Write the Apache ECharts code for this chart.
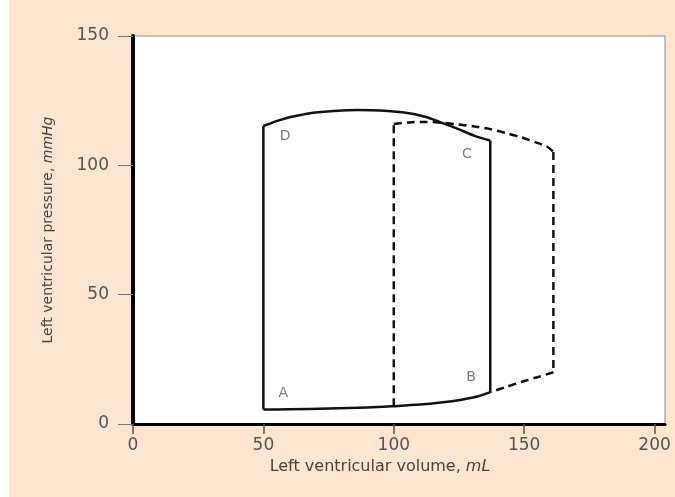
<!DOCTYPE html>
<html>
<head>
<meta charset="utf-8">
<title>Left ventricular pressure–volume loop</title>
<script src="https://cdn.jsdelivr.net/npm/echarts@6/dist/echarts.min.js"></script>
<style>
  html, body { margin: 0; padding: 0; background: #ffffff; }
  #chart { position: absolute; left: 9px; top: 0; width: 666px; height: 497px; }
</style>
</head>
<body>
<div id="chart"></div>
<script>
// Axis ticks
const volumeTicks = [0, 50, 100, 150, 200];
const pressureTicks = [0, 50, 100, 150];

// Control loop (solid): D -> C along the top, B -> A along the bottom
const controlTop = [
  [50, 115.2], [55, 117.1], [60, 118.6], [65, 119.6], [70, 120.4], [77, 121.0],
  [86, 121.4], [95, 121.2], [104, 120.4], [112, 118.8], [118, 116.6],
  [125, 113.9], [131, 111.4], [137, 109.6]
];
const controlBottom = [
  [137, 12.3], [132, 10.6], [126, 9.4], [118, 8.3], [110, 7.5],
  [100, 6.9], [90, 6.4], [75, 6.0], [60, 5.7], [50, 5.6]
];

// Increased preload loop (dashed): top from the left wall, bottom from the right wall
const preloadTop = [
  [100, 116.0], [106, 116.6], [112, 116.8], [118, 116.5], [125, 115.8],
  [131, 115.0], [137, 114.0], [143, 112.5], [149, 110.8], [155, 108.7],
  [159, 107.1], [161.2, 105.2]
];
const preloadBottom = [
  [161.2, 20.0], [155, 18.1], [149, 16.3], [143, 14.3], [137, 12.3]
];
const preloadFloor = [100, 6.9];

// Corner letters
const cornerNames = ['A', 'B', 'C', 'D'];
const cornerPos = [[57.6, 11.9], [129.6, 17.9], [128, 104.2], [58.3, 111.3]];

const FONT = '"DejaVu Sans", sans-serif';

function segment(name, data, dashed, smooth) {
  return {
    name: name,
    type: 'line',
    data: data,
    showSymbol: false,
    symbol: 'none',
    smooth: smooth ? 0.3 : false,
    lineStyle: {
      color: '#111',
      width: 2.5,
      type: dashed ? [8, 5] : 'solid',
      cap: 'butt',
      join: 'miter'
    },
    z: dashed ? 2 : 3
  };
}

const last = a => a[a.length - 1];

const series = [
  // dashed loop
  segment('Preload left wall', [preloadFloor, preloadTop[0]], true, false),
  segment('Preload top', preloadTop, true, true),
  segment('Preload right wall', [last(preloadTop), preloadBottom[0]], true, false),
  segment('Preload bottom', preloadBottom, true, true),
  // solid loop
  segment('Control left wall', [last(controlBottom), controlTop[0]], false, false),
  segment('Control top', controlTop, false, true),
  segment('Control right wall', [last(controlTop), controlBottom[0]], false, false),
  segment('Control bottom', controlBottom, false, true),
  {
    name: 'Corners',
    type: 'scatter',
    symbolSize: 0,
    data: cornerNames.map((n, i) => ({ name: n, value: cornerPos[i] })),
    label: {
      show: true,
      position: 'inside',
      formatter: p => p.name,
      color: '#5a5a5a',
      fontFamily: FONT,
      fontSize: 14
    },
    z: 4
  }
];

const chart = echarts.init(document.getElementById('chart'), null, { renderer: 'canvas' });

chart.setOption({
  backgroundColor: '#fde5cf',
  animation: false,
  grid: {
    left: 124, right: 10, top: 36, bottom: 73,
    show: true,
    backgroundColor: '#ffffff',
    borderColor: '#8a8a8a',
    borderWidth: 1,
    containLabel: false,
    outerBoundsMode: 'none'
  },
  xAxis: {
    type: 'value',
    min: 0,
    max: 204,
    splitLine: { show: false },
    axisLine: { show: true, onZero: false, lineStyle: { color: '#000', width: 3 } },
    axisTick: {
      show: true, length: 10, customValues: volumeTicks,
      lineStyle: { color: '#555', width: 1.5 }
    },
    axisLabel: {
      customValues: volumeTicks, margin: 13,
      color: '#555', fontFamily: FONT, fontSize: 17
    },
    name: '{n|Left ventricular volume, }{i|mL}',
    nameLocation: 'middle',
    nameGap: 34,
    nameTextStyle: {
      padding: [0, 38, 0, 0],
      rich: {
        n: { color: '#444', fontFamily: FONT, fontSize: 16 },
        i: { color: '#444', fontFamily: FONT, fontSize: 16, fontStyle: 'italic' }
      }
    }
  },
  yAxis: {
    type: 'value',
    min: 0,
    max: 150,
    splitLine: { show: false },
    axisLine: { show: true, onZero: false, lineStyle: { color: '#000', width: 4 } },
    axisTick: {
      show: true, length: 15, customValues: pressureTicks,
      lineStyle: { color: '#777', width: 1 }
    },
    axisLabel: {
      customValues: pressureTicks, margin: 24,
      color: '#555', fontFamily: FONT, fontSize: 17
    },
    name: '{n|Left ventricular pressure, }{i|mmHg}',
    nameLocation: 'middle',
    nameGap: 78,
    nameRotate: 90,
    nameTextStyle: {
      rich: {
        n: { color: '#444', fontFamily: FONT, fontSize: 14 },
        i: { color: '#444', fontFamily: FONT, fontSize: 14, fontStyle: 'italic' }
      }
    }
  },
  series: series
});
</script>
</body>
</html>
